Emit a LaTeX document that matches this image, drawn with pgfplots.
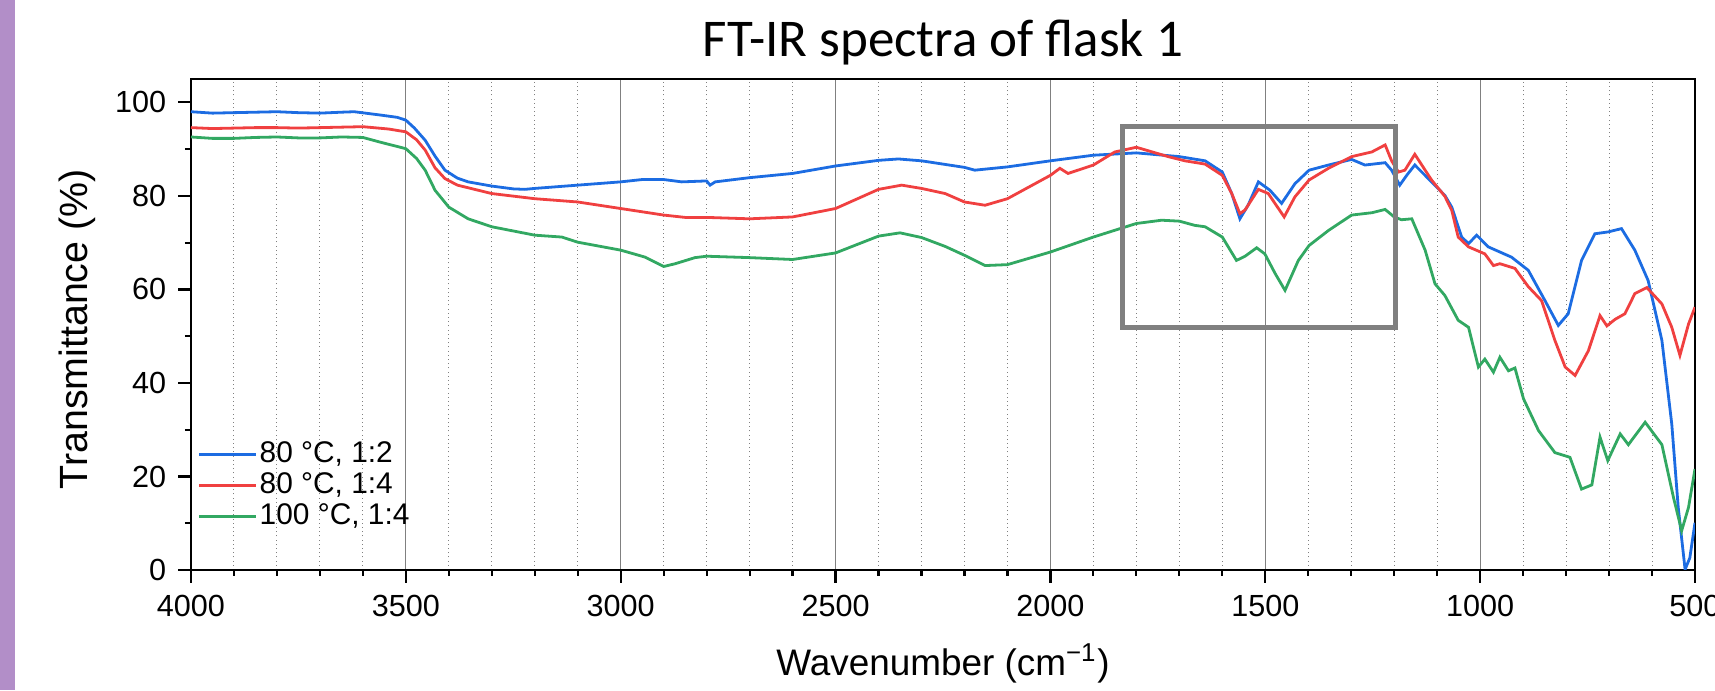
\documentclass[border=0pt]{standalone}
\usepackage{fontspec}
\setmainfont{Liberation Sans}
\newfontfamily\titlefont{Carlito}
\usepackage{pgfplots}
\pgfplotsset{compat=1.18}
\definecolor{cblue}{RGB}{28,108,226}
\definecolor{cred}{RGB}{240,64,64}
\definecolor{cgreen}{RGB}{50,168,98}
\definecolor{cpurple}{RGB}{178,142,200}
\definecolor{cgray}{RGB}{128,128,128}
\begin{document}
\begin{tikzpicture}
\begin{axis}[
  scale only axis, width=150.4mm, height=49.1mm,
  x dir=reverse, xmin=500, xmax=4000, ymin=0, ymax=105,
  xtick={500,1000,...,4000}, minor x tick num=4,
  ytick={0,20,...,100}, minor y tick num=1,
  xmajorgrids, xminorgrids,
  major grid style={cgray, line width=0.1mm},
  minor grid style={cgray, line width=0.1mm, dash pattern=on 0.1mm off 0.32mm},
  axis line style={line width=0.25mm},
  tick style={black, line width=0.22mm},
  major tick length=1.25mm, minor tick length=0.6mm,
  tick align=outside, xtick pos=left, ytick pos=left,
  /pgf/number format/1000 sep={},
  /pgf/number format/assume math mode=true,
  ticklabel style={font=\fontsize{8.7}{10}\selectfont},
  xlabel={Wavenumber (cm\textsuperscript{\char"2212 1})},
  ylabel={Transmittance (\%)},
  xlabel style={at={(axis description cs:0.5,0)}, anchor=base, yshift=-10.5mm, font=\fontsize{10.5}{12}\selectfont},
  ylabel style={at={(axis description cs:-0.0685,0.49)}, anchor=base, rotate=0, font=\fontsize{11.2}{13}\selectfont},
  legend style={at={(axis description cs:0.004,0.075)}, anchor=south west, draw=none, fill=none,
    font=\fontsize{8.5}{10}\selectfont, inner sep=0pt, row sep=0pt,
    nodes={inner sep=0.2mm, text height=2.1mm, text depth=0.6mm}},
  legend image code/.code={\draw[#1, line width=0.3mm] (0mm,0mm) -- (5.7mm,0mm);},
  legend cell align=left,
  every axis plot/.append style={line width=0.28mm, mark=none},
]
\addplot[cblue] coordinates {(4000,98.0)(3950,97.7)(3900,97.8)(3850,97.9)(3800,98.0)(3750,97.8)(3700,97.7)(3650,97.9)(3620,98.0)(3560,97.3)(3520,96.8)(3500,96.2)(3480,94.5)(3455,91.9)(3432,88.5)(3409,85.5)(3380,83.8)(3355,83.0)(3300,82.1)(3250,81.5)(3223,81.4)(3200,81.6)(3100,82.3)(3000,83.0)(2950,83.5)(2900,83.5)(2858,83.0)(2800,83.2)(2792,82.3)(2780,83.0)(2700,83.9)(2600,84.8)(2500,86.4)(2400,87.6)(2354,87.9)(2300,87.5)(2250,86.8)(2200,86.1)(2176,85.5)(2100,86.2)(2000,87.5)(1900,88.7)(1800,89.2)(1700,88.4)(1640,87.5)(1600,85.1)(1578,80.5)(1559,75.1)(1540,78.0)(1516,83.0)(1489,81.2)(1462,78.4)(1431,82.6)(1398,85.5)(1353,86.6)(1299,87.8)(1268,86.6)(1221,87.1)(1206,85.5)(1187,82.3)(1170,84.5)(1152,86.6)(1113,83.0)(1082,80.1)(1066,77.6)(1043,71.2)(1027,69.8)(1008,71.6)(981,69.1)(927,66.9)(888,64.1)(849,57.6)(818,52.3)(795,54.8)(764,66.2)(733,71.9)(702,72.3)(671,73.0)(640,68.4)(609,61.9)(577,49.1)(554,31.2)(539,13.4)(523,0.1)(512,2.6)(500,10.1)};
\addlegendentry{80 °C, 1:2}
\addplot[cred] coordinates {(4000,94.6)(3950,94.4)(3900,94.5)(3850,94.6)(3800,94.6)(3750,94.5)(3700,94.6)(3650,94.7)(3600,94.8)(3540,94.3)(3500,93.7)(3475,92.0)(3455,89.8)(3432,86.0)(3409,83.7)(3380,82.3)(3300,80.5)(3200,79.4)(3100,78.7)(3000,77.3)(2900,75.9)(2850,75.4)(2800,75.4)(2700,75.1)(2600,75.5)(2500,77.3)(2400,81.4)(2346,82.3)(2300,81.6)(2245,80.5)(2200,78.7)(2152,78.0)(2100,79.4)(2000,84.4)(1978,85.9)(1959,84.8)(1900,86.6)(1850,89.4)(1800,90.4)(1726,88.4)(1687,87.5)(1640,86.8)(1600,84.4)(1578,80.5)(1559,76.2)(1547,77.0)(1516,81.4)(1493,80.5)(1456,75.5)(1431,79.8)(1398,83.4)(1353,85.9)(1299,88.4)(1252,89.4)(1221,90.9)(1206,87.5)(1190,85.1)(1175,85.5)(1152,88.9)(1113,83.4)(1082,79.9)(1066,76.9)(1051,71.2)(1027,69.1)(989,67.6)(969,65.1)(954,65.5)(919,64.5)(888,60.6)(857,57.6)(826,49.1)(802,43.4)(779,41.6)(748,46.9)(721,54.4)(705,52.2)(686,53.6)(663,54.8)(640,59.1)(612,60.4)(577,56.9)(554,51.9)(535,45.9)(515,52.6)(500,56.2)};
\addlegendentry{80 °C, 1:4}
\addplot[cgreen] coordinates {(4000,92.6)(3950,92.3)(3900,92.3)(3850,92.5)(3800,92.6)(3750,92.4)(3700,92.4)(3650,92.6)(3600,92.5)(3560,91.5)(3500,90.1)(3475,88.0)(3455,85.5)(3432,81.2)(3400,77.6)(3355,75.1)(3300,73.4)(3200,71.6)(3137,71.2)(3100,70.1)(3000,68.4)(2943,66.9)(2900,64.9)(2873,65.5)(2827,66.8)(2800,67.1)(2700,66.8)(2600,66.4)(2500,67.8)(2400,71.4)(2350,72.1)(2300,71.1)(2245,69.2)(2200,67.3)(2152,65.1)(2100,65.3)(2000,68.0)(1900,71.2)(1800,74.1)(1741,74.8)(1700,74.6)(1664,73.7)(1640,73.4)(1600,71.2)(1567,66.2)(1547,67.1)(1520,68.9)(1501,67.6)(1477,63.4)(1454,59.8)(1423,66.2)(1398,69.4)(1353,72.6)(1299,75.9)(1252,76.4)(1221,77.1)(1200,75.5)(1183,74.9)(1159,75.1)(1128,68.4)(1105,61.2)(1082,58.7)(1051,53.4)(1027,51.9)(1004,43.4)(989,45.1)(969,42.3)(954,45.5)(934,42.6)(919,43.2)(899,36.6)(864,29.8)(826,25.1)(791,24.1)(764,17.3)(740,18.2)(721,28.4)(703,23.4)(674,29.1)(655,26.8)(616,31.6)(577,26.8)(550,15.5)(531,8.4)(515,13.4)(500,21.6)};
\addlegendentry{100 °C, 1:4}
\draw[cgray, line width=0.5mm] (axis cs:1833,94.9) rectangle (axis cs:1196,51.9);
\end{axis}
\node[font=\titlefont\fontsize{15.1}{18}\selectfont, anchor=base] at (75.2mm,51.3mm) {FT-IR spectra of flask 1};
\pgfresetboundingbox
\path[use as bounding box] (-19.1mm,-12mm) rectangle (152.4mm,57mm);
\fill[cpurple] (-19.1mm,-12mm) rectangle (-17.6mm,57mm);
\end{tikzpicture}
\end{document}
